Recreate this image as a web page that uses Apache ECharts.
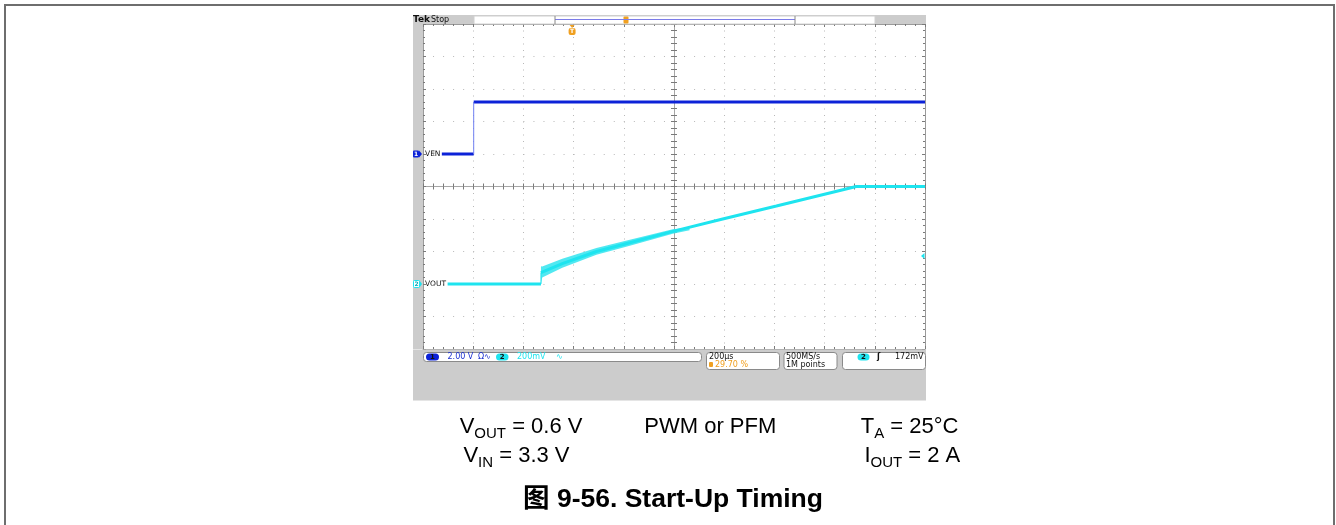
<!DOCTYPE html>
<html>
<head>
<meta charset="utf-8">
<title>Start-Up Timing</title>
<script src="https://cdn.jsdelivr.net/npm/echarts@6.0.0/dist/echarts.min.js"></script>
<style>
html, body { margin: 0; padding: 0; background: #fff; }
#chart { width: 1336px; height: 525px; }
</style>
</head>
<body>
<div id="chart"></div>
<script>
// time in µs from the screen centre (200 µs/div), values in volts
const venT = [-925, -798, -798, 1000];
const venV = [0, 0, 3.2, 3.2];

const voutT = [-902, -530, -530, -445, -309, -176, -5, 194, 408, 726, 1000];
const voutV = [0, 0, 0.07, 0.125, 0.2, 0.254, 0.324, 0.40, 0.48, 0.6, 0.6];

// switching ripple envelope on VOUT during soft start
const rippleT = [-530, -525, -445, -309, -176, -5, 62];
const rippleLo = [0.0, 0.04, 0.10, 0.18, 0.236, 0.31, 0.331];
const rippleHi = [0.11, 0.108, 0.155, 0.222, 0.273, 0.337, 0.347];

const trigTime = -406;    // 29.70 % of record
const trigLevel = 0.172;  // 172 mV on ch2

const BLUE = '#0c22d8';
const CYAN = '#1ee4ef';
const ORANGE = '#f0a020';
const BORDER = '#9a9a9a';
const TICK = '#7a7a7a';
const DOT = '#b8b8b8';
const FONT = "'Liberation Sans', Arial, 'Noto Sans CJK SC', sans-serif";
const SFONT = "'DejaVu Sans', sans-serif";

// horizontal parts thick, vertical jumps thin (like the scope draws them)
function flatParts(ts, vs) {
    const out = [];
    for (let i = 0; i < ts.length; i++) {
        if (i > 0 && ts[i] === ts[i - 1]) out.push([ts[i], '-']);
        out.push([ts[i], vs[i]]);
    }
    return out;
}
function edgeParts(ts, vs) {
    const out = [];
    for (let i = 1; i < ts.length; i++) {
        if (ts[i] === ts[i - 1]) {
            out.push([ts[i - 1], vs[i - 1]], [ts[i], vs[i]], [ts[i], '-']);
        }
    }
    return out;
}

function frameAxis(pos, extra) {
    return Object.assign({
        type: 'value', position: pos,
        axisLine: { onZero: false, lineStyle: { color: BORDER, width: 1 } },
        axisTick: { show: true, inside: true, length: 3, lineStyle: { color: TICK } },
        minorTick: { show: true, splitNumber: 5, length: 2, lineStyle: { color: TICK } },
        axisLabel: { show: false },
        splitLine: { show: false }
    }, extra);
}
function crossAxis(pos, inside) {
    return {
        type: 'value', position: pos,
        axisLine: { onZero: true, onZeroAxisIndex: 0, lineStyle: { color: '#a6a6a6', width: 1 } },
        axisTick: { show: true, inside: inside, length: 3, lineStyle: { color: TICK } },
        minorTick: { show: true, splitNumber: 5, length: 3, lineStyle: { color: TICK } },
        axisLabel: { show: false },
        splitLine: { show: false }
    };
}

const xRange = { min: -1000, max: 1000, interval: 200 };
const dRange = { min: -5, max: 5, interval: 1 };

var chart = echarts.init(document.getElementById('chart'));
var option = {
    animation: false,
    backgroundColor: '#fff',
    grid: { left: 423, top: 24, width: 502, height: 325, show: false },
    xAxis: [
        frameAxis('bottom', Object.assign({
            splitLine: { show: true, showMinLine: false, showMaxLine: false, lineStyle: { color: DOT, type: [1, 5.5] } }
        }, xRange)),
        frameAxis('top', Object.assign({}, xRange)),
        Object.assign(crossAxis('bottom', true), xRange),
        Object.assign(crossAxis('bottom', false), xRange)
    ],
    yAxis: [
        frameAxis('left', Object.assign({
            splitLine: { show: true, showMinLine: false, showMaxLine: false, lineStyle: { color: DOT, type: [1, 9.04] } }
        }, dRange)),
        frameAxis('right', Object.assign({}, dRange)),
        Object.assign(crossAxis('left', true), dRange),
        Object.assign(crossAxis('left', false), dRange),
        { type: 'value', min: -12, max: 8, show: false },     // ch1 2.00 V/div
        { type: 'value', min: -0.4, max: 1.6, show: false }   // ch2 200 mV/div
    ],
    series: [
        {
            name: 'VEN', type: 'line', xAxisIndex: 0, yAxisIndex: 4,
            data: flatParts(venT, venV), symbol: 'none', connectNulls: false,
            lineStyle: { color: BLUE, width: 3 }, z: 5
        },
        {
            name: 'VEN edge', type: 'line', xAxisIndex: 0, yAxisIndex: 4,
            data: edgeParts(venT, venV), symbol: 'none', connectNulls: false,
            lineStyle: { color: '#6f7ff2', width: 1 }, z: 5
        },
        {
            // ripple band: one polygon, lower edge forward then upper edge back
            name: 'ripple', type: 'custom', xAxisIndex: 0, yAxisIndex: 5,
            data: rippleT.map((t, i) => [t, rippleLo[i], rippleHi[i]]),
            renderItem: function (params, api) {
                if (params.dataIndex !== 0) return null;
                const pts = [];
                for (let i = 0; i < rippleT.length; i++) pts.push(api.coord([rippleT[i], rippleLo[i]]));
                for (let i = rippleT.length - 1; i >= 0; i--) pts.push(api.coord([rippleT[i], rippleHi[i]]));
                return { type: 'polygon', shape: { points: pts }, style: { fill: '#3ee6f0', opacity: 0.9 } };
            },
            z: 4
        },
        {
            name: 'VOUT', type: 'line', xAxisIndex: 0, yAxisIndex: 5,
            data: flatParts(voutT, voutV), symbol: 'none', connectNulls: false,
            lineStyle: { color: CYAN, width: 3 }, z: 5
        },
        {
            name: 'VOUT edge', type: 'line', xAxisIndex: 0, yAxisIndex: 5,
            data: edgeParts(voutT, voutV), symbol: 'none', connectNulls: false,
            lineStyle: { color: CYAN, width: 1 }, z: 5
        }
    ]
};
chart.setOption(option);

// scope screen chrome, placed from the axes
const y1 = chart.convertToPixel({ yAxisIndex: 4 }, 0);
const y2 = chart.convertToPixel({ yAxisIndex: 5 }, 0);
const yTrig = chart.convertToPixel({ yAxisIndex: 5 }, trigLevel);
const xTrig = chart.convertToPixel({ xAxisIndex: 0 }, trigTime);

function txt(x, y, s, color, font, align) {
    return {
        type: 'text', x: x, y: y, z: 20,
        style: { text: s, fill: color, font: font || ('8px ' + SFONT),
                 align: align || 'left', verticalAlign: 'middle',
                 textAlign: align || 'left', textVerticalAlign: 'middle' }
    };
}
function box(x, y, w, h, fill, stroke, r) {
    return {
        type: 'rect', z: 15,
        shape: { x: x, y: y, width: w, height: h, r: r || 0 },
        style: { fill: fill, stroke: stroke || null, lineWidth: 1 }
    };
}
function pill(x, y, w, color, label) {
    return [box(x, y, w, 7, color, null, 3.5),
            txt(x + w / 2, y + 3.6, label, '#111', 'bold 7px ' + SFONT, 'center')];
}

const capRich = {
    n: { fontSize: 22, fontFamily: FONT, color: '#000' },
    s: { fontSize: 15, fontFamily: FONT, color: '#000', padding: [14, 0, 0, 0] }
};
function caption(x, y, s) {
    return {
        type: 'text', x: x, y: y, z: 20,
        style: { text: s, rich: capRich, align: 'left', verticalAlign: 'middle',
                 textAlign: 'left', textVerticalAlign: 'middle' }
    };
}

const graphics = [
    // outer figure frame
    { type: 'rect', z: 1, shape: { x: 5, y: 5, width: 1329, height: 540 },
      style: { fill: null, stroke: '#6e6e6e', lineWidth: 2 } },
    // grey screen surround
    box(413, 15, 513, 9, '#cccccc'),
    box(413, 24, 10, 325, '#cccccc'),
    box(413, 349.5, 513, 51, '#cccccc'),
    // top status bar
    txt(413, 20, 'Tek', '#111', 'bold 9px ' + SFONT),
    txt(431, 20, 'Stop', '#111', '8px ' + SFONT),
    box(474, 16, 401, 8, '#ffffff', '#d0d0d0'),
    { type: 'line', z: 16, shape: { x1: 555, y1: 19.5, x2: 795, y2: 19.5 }, style: { stroke: '#7b7be8', lineWidth: 1 } },
    { type: 'line', z: 16, shape: { x1: 555, y1: 16, x2: 555, y2: 24 }, style: { stroke: '#888', lineWidth: 1 } },
    { type: 'line', z: 16, shape: { x1: 795, y1: 16, x2: 795, y2: 24 }, style: { stroke: '#888', lineWidth: 1 } },
    box(623.5, 16.5, 5, 7, ORANGE, null, 1),
    // trigger position marker
    { type: 'polygon', z: 16, shape: { points: [[xTrig - 2.5, 25], [xTrig + 2.5, 25], [xTrig, 28]] }, style: { fill: ORANGE } },
    box(xTrig - 3.5, 28, 7, 7, ORANGE, null, 2),
    txt(xTrig, 31.7, 'T', '#fff', 'bold 6px ' + SFONT, 'center'),
    // trigger level marker
    { type: 'polygon', z: 16, shape: { points: [[921, yTrig], [924.5, yTrig - 3], [924.5, yTrig + 3]] }, style: { fill: CYAN } },
    // channel ground markers and labels
    box(413, y1 - 3.5, 6, 7, BLUE, null, 1),
    { type: 'polygon', z: 16, shape: { points: [[419, y1 - 3.5], [422, y1], [419, y1 + 3.5]] }, style: { fill: BLUE } },
    txt(416, y1 + 0.2, '1', '#fff', 'bold 6px ' + SFONT, 'center'),
    txt(425, y1, 'VEN', '#111', '7.5px ' + SFONT),
    box(413.5, y2 - 3.5, 6, 7, '#ffffff', CYAN, 1),
    { type: 'polygon', z: 16, shape: { points: [[419.5, y2 - 3.5], [422, y2], [419.5, y2 + 3.5]] }, style: { fill: CYAN } },
    txt(416.5, y2 + 0.2, '2', '#0aa8b8', 'bold 6px ' + SFONT, 'center'),
    txt(425, y2, 'VOUT', '#111', '7.5px ' + SFONT),
    // bottom readouts
    box(423.5, 352.5, 278, 9, '#ffffff', '#8a8a8a', 3),
    ...pill(426, 353.5, 13, BLUE, '1'),
    txt(447.5, 357.2, '2.00 V', '#1a2fd0'),
    txt(478, 357.2, 'Ω∿', '#1a2fd0'),
    ...pill(496, 353.5, 12.5, CYAN, '2'),
    txt(517, 357.2, '200mV', CYAN),
    txt(556, 357.2, '∿', CYAN),
    box(706.5, 352.5, 73, 17, '#ffffff', '#8a8a8a', 3),
    txt(709, 357, '200µs', '#111'),
    box(709, 362, 4, 5, ORANGE, null, 1),
    txt(715, 365.3, '29.70 %', ORANGE),
    box(784, 352.5, 53, 17, '#ffffff', '#8a8a8a', 3),
    txt(786, 357, '500MS/s', '#111'),
    txt(786, 365.3, '1M points', '#111'),
    box(842.5, 352.5, 83, 17, '#ffffff', '#8a8a8a', 3),
    ...pill(857.5, 353.5, 12, CYAN, '2'),
    txt(877, 357, 'ʃ', '#111', 'bold 8px ' + SFONT),
    txt(923.5, 357, '172mV', '#111', '8px ' + SFONT, 'right'),
    // test conditions
    caption(459.7, 427, '{n|V}{s|OUT}{n| = 0.6 V}'),
    caption(463.4, 456, '{n|V}{s|IN}{n| = 3.3 V}'),
    caption(644.3, 427, '{n|PWM or PFM}'),
    caption(860.7, 427, '{n|T}{s|A}{n| = 25°C}'),
    caption(864.4, 456, '{n|I}{s|OUT}{n| = 2 A}'),
    txt(673, 500, '图 9-56. Start-Up Timing', '#000', 'bold 26.5px ' + FONT, 'center')
];
chart.setOption({ graphic: graphics });
</script>
</body>
</html>
